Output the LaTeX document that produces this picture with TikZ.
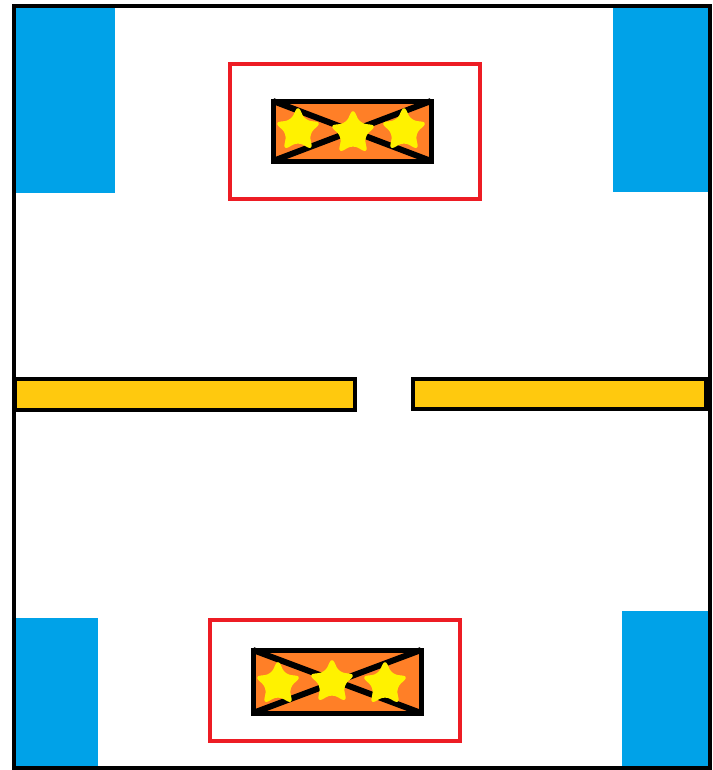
\documentclass[tikz,border=0pt]{standalone}
\usetikzlibrary{shapes.geometric}
\definecolor{paintblue}{RGB}{0,162,232}
\definecolor{paintgold}{RGB}{255,201,14}
\definecolor{paintorange}{RGB}{255,127,39}
\definecolor{paintyellow}{RGB}{255,242,0}
\definecolor{paintred}{RGB}{237,28,36}
\tikzset{%
  wall/.style={draw=black, line width=0.4mm},
  bar/.style={draw=black, fill=paintgold, line width=0.4mm},
  zone/.style={draw=paintred, line width=0.35mm},
  crate/.style={draw=black, fill=paintorange, line width=0.5mm},
  cross/.style={draw=black, line width=0.6mm},
  starmark/.style={star, star points=5, star point ratio=2.1, fill=paintyellow,
                   minimum size=5mm, inner sep=0pt, rounded corners=0.6mm},
}

\begin{document}
\begin{tikzpicture}[x=0.1mm, y=-0.1mm]

    \useasboundingbox (0,0) rectangle (713,770);

    % blue corner blocks
    \fill[paintblue] (15,8) rectangle (115,193);
    \fill[paintblue] (613,8) rectangle (708,192);
    \fill[paintblue] (15,618) rectangle (98,767);
    \fill[paintblue] (622,611) rectangle (708,767);

    % outer walls
    \draw[wall] (13.5,6) rectangle (710,768);

    % gold bars across the middle
    \draw[bar] (15,379) rectangle (355,410);
    \draw[bar] (413,379) rectangle (706,409);

    % top zone with crate
    \draw[zone] (230,64) rectangle (480,199);
    \coordinate (TA) at (273,101);
    \coordinate (TB) at (431,101);
    \coordinate (TC) at (431,161);
    \coordinate (TD) at (273,161);
    \draw[crate] (TA) rectangle (TC);
    \draw[cross] (TA) -- (TC);
    \draw[cross] (TD) -- (TB);
    \node[starmark] (top1) at (298,130) {};
    \node[starmark] (top2) at (353,133) {};
    \node[starmark] (top3) at (404,130) {};

    % bottom zone with crate
    \draw[zone] (210,620) rectangle (460,741);
    \coordinate (BA) at (253,650);
    \coordinate (BB) at (421,650);
    \coordinate (BC) at (421,713);
    \coordinate (BD) at (253,713);
    \draw[crate] (BA) rectangle (BC);
    \draw[cross] (BA) -- (BC);
    \draw[cross] (BD) -- (BB);
    \node[starmark] (bot1) at (278,684) {};
    \node[starmark] (bot2) at (332,682) {};
    \node[starmark] (bot3) at (385,684) {};

\end{tikzpicture}
\end{document}
